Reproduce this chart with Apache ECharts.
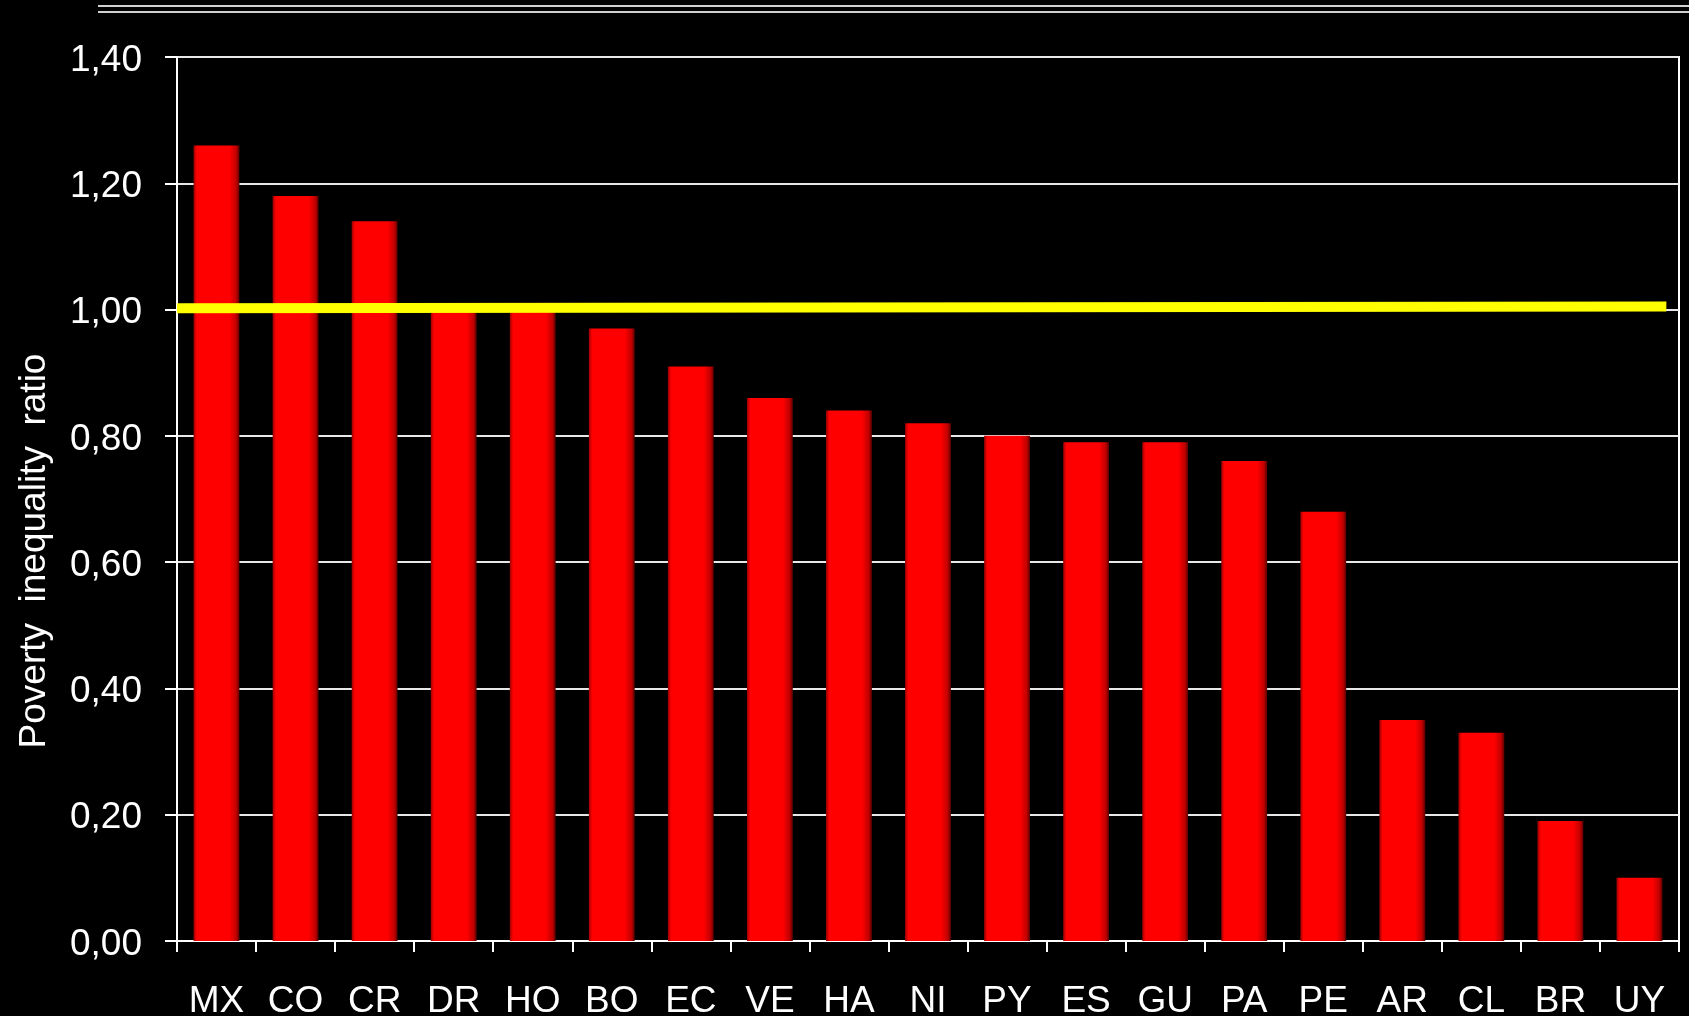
<!DOCTYPE html>
<html>
<head>
<meta charset="utf-8">
<title>Poverty inequality ratio</title>
<script src="https://cdn.jsdelivr.net/npm/echarts@6/dist/echarts.min.js"></script>
<style>
  html, body { margin: 0; padding: 0; background: #000; }
  #chart { width: 1689px; height: 1016px; }
</style>
</head>
<body>
<div id="chart"></div>
<script>
// Countries, ordered from highest to lowest ratio
const countries = ['MX', 'CO', 'CR', 'DR', 'HO', 'BO', 'EC', 'VE', 'HA', 'NI',
                   'PY', 'ES', 'GU', 'PA', 'PE', 'AR', 'CL', 'BR', 'UY'];
const ratios = [1.26, 1.18, 1.14, 1.01, 1.01, 0.97, 0.91, 0.86, 0.84, 0.82,
                0.80, 0.79, 0.79, 0.76, 0.68, 0.35, 0.33, 0.19, 0.10];
// Reference rule around the 1.00 level (start / end heights, x in category units)
const referenceLevels = [1.002, 1.005];
const referenceSpan = [0, 18.84];
// Y axis ticks
const yTicks = [0.00, 0.20, 0.40, 0.60, 0.80, 1.00, 1.20, 1.40];

const chart = echarts.init(document.getElementById('chart'));
const font = 'Liberation Sans, Arial, sans-serif';

const barFill = new echarts.graphic.LinearGradient(0, 0, 1, 0, [
  { offset: 0.00, color: '#9a0000' },
  { offset: 0.07, color: '#ff0000' },
  { offset: 0.78, color: '#ff0000' },
  { offset: 0.93, color: '#c00000' },
  { offset: 1.00, color: '#5a0000' }
]);

chart.setOption({
  backgroundColor: '#000000',
  animation: false,
  graphic: [
    { type: 'line', shape: { x1: 98, y1: 6, x2: 1689, y2: 6 },
      style: { stroke: '#d0d0d0', lineWidth: 2 } },
    { type: 'line', shape: { x1: 98, y1: 12, x2: 1689, y2: 12 },
      style: { stroke: '#d0d0d0', lineWidth: 2 } }
  ],
  grid: {
    left: 177, right: 10, top: 57, bottom: 75,
    outerBoundsMode: 'none',
    containLabel: false,
    show: true, borderColor: '#ffffff', borderWidth: 2, backgroundColor: 'transparent'
  },
  xAxis: [{
    type: 'category',
    data: countries,
    boundaryGap: true,
    axisLine: { lineStyle: { color: '#ffffff', width: 2 } },
    axisTick: { show: true, length: 11, alignWithLabel: false, lineStyle: { color: '#ffffff', width: 2 } },
    axisLabel: { color: '#ffffff', fontSize: 37, fontFamily: font, margin: 42, interval: 0 },
    splitLine: { show: false }
  }, {
    type: 'value', min: 0, max: countries.length, show: false
  }],
  yAxis: {
    type: 'value',
    min: yTicks[0],
    max: yTicks[yTicks.length - 1],
    interval: 0.2,
    name: 'Poverty  inequality  ratio',
    nameLocation: 'middle',
    nameGap: 124,
    nameTextStyle: { color: '#ffffff', fontSize: 37, fontFamily: font, padding: [0, 104, 0, 0] },
    axisLine: { show: true, lineStyle: { color: '#ffffff', width: 2 } },
    axisTick: { show: true, length: 12, lineStyle: { color: '#ffffff', width: 2 } },
    axisLabel: {
      color: '#ffffff', fontSize: 37, fontFamily: font, margin: 35,
      verticalAlign: 'top', lineHeight: 7,
      formatter: v => v.toFixed(2).replace('.', ',')
    },
    splitLine: { show: true, lineStyle: { color: '#e8e8e8', width: 2 } }
  },
  series: [{
    type: 'bar',
    data: ratios,
    barWidth: '58%',
    itemStyle: { color: barFill },
    z: 2
  }, {
    type: 'line',
    xAxisIndex: 1,
    data: referenceSpan.map((x, i) => [x, referenceLevels[i]]),
    symbol: 'none',
    lineStyle: { color: '#ffff00', width: 10, cap: 'butt' },
    z: 5
  }]
});
</script>
</body>
</html>
